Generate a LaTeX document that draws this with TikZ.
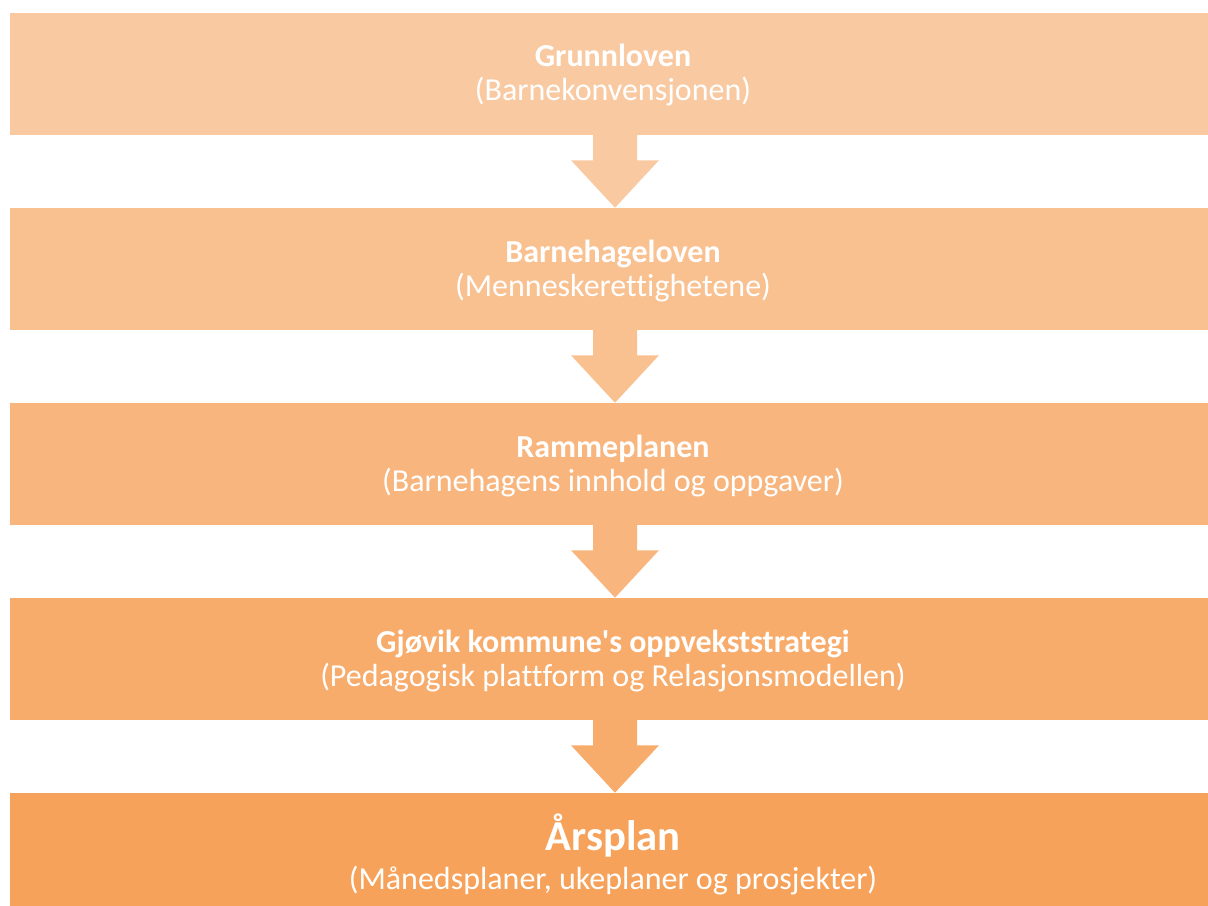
\documentclass[tikz,border=0pt]{standalone}
\usepackage{fontspec}
\setmainfont{Carlito}[Ligatures=NoCommon]
\usetikzlibrary{calc}

\definecolor{or1}{RGB}{249,202,162}
\definecolor{or2}{RGB}{249,192,144}
\definecolor{or3}{RGB}{248,182,126}
\definecolor{or4}{RGB}{248,172,108}
\definecolor{or5}{RGB}{247,162,90}

\begin{document}
\begin{tikzpicture}[x=0.75pt, y=-0.75pt]
		\tikzset{bx/.style={rectangle, inner sep=0pt, minimum width=907.5pt, minimum height=91.5pt}};
		\tikzset{ttl/.style={anchor=base, text=white, inner sep=0pt, font=\bfseries\fontsize{24}{24}\selectfont}};
		\tikzset{sub/.style={anchor=base, text=white, inner sep=0pt, font=\fontsize{24}{24}\selectfont}};

		\useasboundingbox (0,0) rectangle (1208,906);

		\node[bx, fill=or1] (b1) at (615, 74) {};
		\node[bx, fill=or2] (b2) at (615, 269) {};
		\node[bx, fill=or3] (b3) at (615, 464) {};
		\node[bx, fill=or4] (b4) at (615, 659) {};
		\node[bx, fill=or5] (b5) at (615, 854) {};

		\node[ttl] (t1) at (613, 67) {Grunnloven};
		\node[sub] (s1) at (613, 101) {(Barnekonvensjonen)};
		\node[ttl] (t2) at (613, 262) {Barnehageloven};
		\node[sub] (s2) at (613, 296) {(Menneskerettighetene)};
		\node[ttl] (t3) at (613, 457) {Rammeplanen};
		\node[sub] (s3) at (613, 491) {(Barnehagens innhold og oppgaver)};
		\node[ttl] (t4) at (613, 652) {Gjøvik kommune\textquotesingle s oppvekststrategi};
		\node[sub] (s4) at (613, 686) {(Pedagogisk plattform og Relasjonsmodellen)};
		\node[ttl, font=\bfseries\fontsize{32}{32}\selectfont] (t5) at (613, 850) {Årsplan};
		\node[sub] (s5) at (613, 889) {(Månedsplaner, ukeplaner og prosjekter)};

		% arrows between the boxes
		\fill[or1] ($(b1.south)+(-22,-1)$) -- ($(b1.south)+(22,-1)$) -- ($(b1.south)+(22,25)$) -- ($(b1.south)+(44,25)$)
			-- (b2.north) -- ($(b1.south)+(-44,25)$) -- ($(b1.south)+(-22,25)$) -- cycle;
		\fill[or2] ($(b2.south)+(-22,-1)$) -- ($(b2.south)+(22,-1)$) -- ($(b2.south)+(22,25)$) -- ($(b2.south)+(44,25)$)
			-- (b3.north) -- ($(b2.south)+(-44,25)$) -- ($(b2.south)+(-22,25)$) -- cycle;
		\fill[or3] ($(b3.south)+(-22,-1)$) -- ($(b3.south)+(22,-1)$) -- ($(b3.south)+(22,25)$) -- ($(b3.south)+(44,25)$)
			-- (b4.north) -- ($(b3.south)+(-44,25)$) -- ($(b3.south)+(-22,25)$) -- cycle;
		\fill[or4] ($(b4.south)+(-22,-1)$) -- ($(b4.south)+(22,-1)$) -- ($(b4.south)+(22,25)$) -- ($(b4.south)+(44,25)$)
			-- (b5.north) -- ($(b4.south)+(-44,25)$) -- ($(b4.south)+(-22,25)$) -- cycle;

	\end{tikzpicture}
\end{document}
